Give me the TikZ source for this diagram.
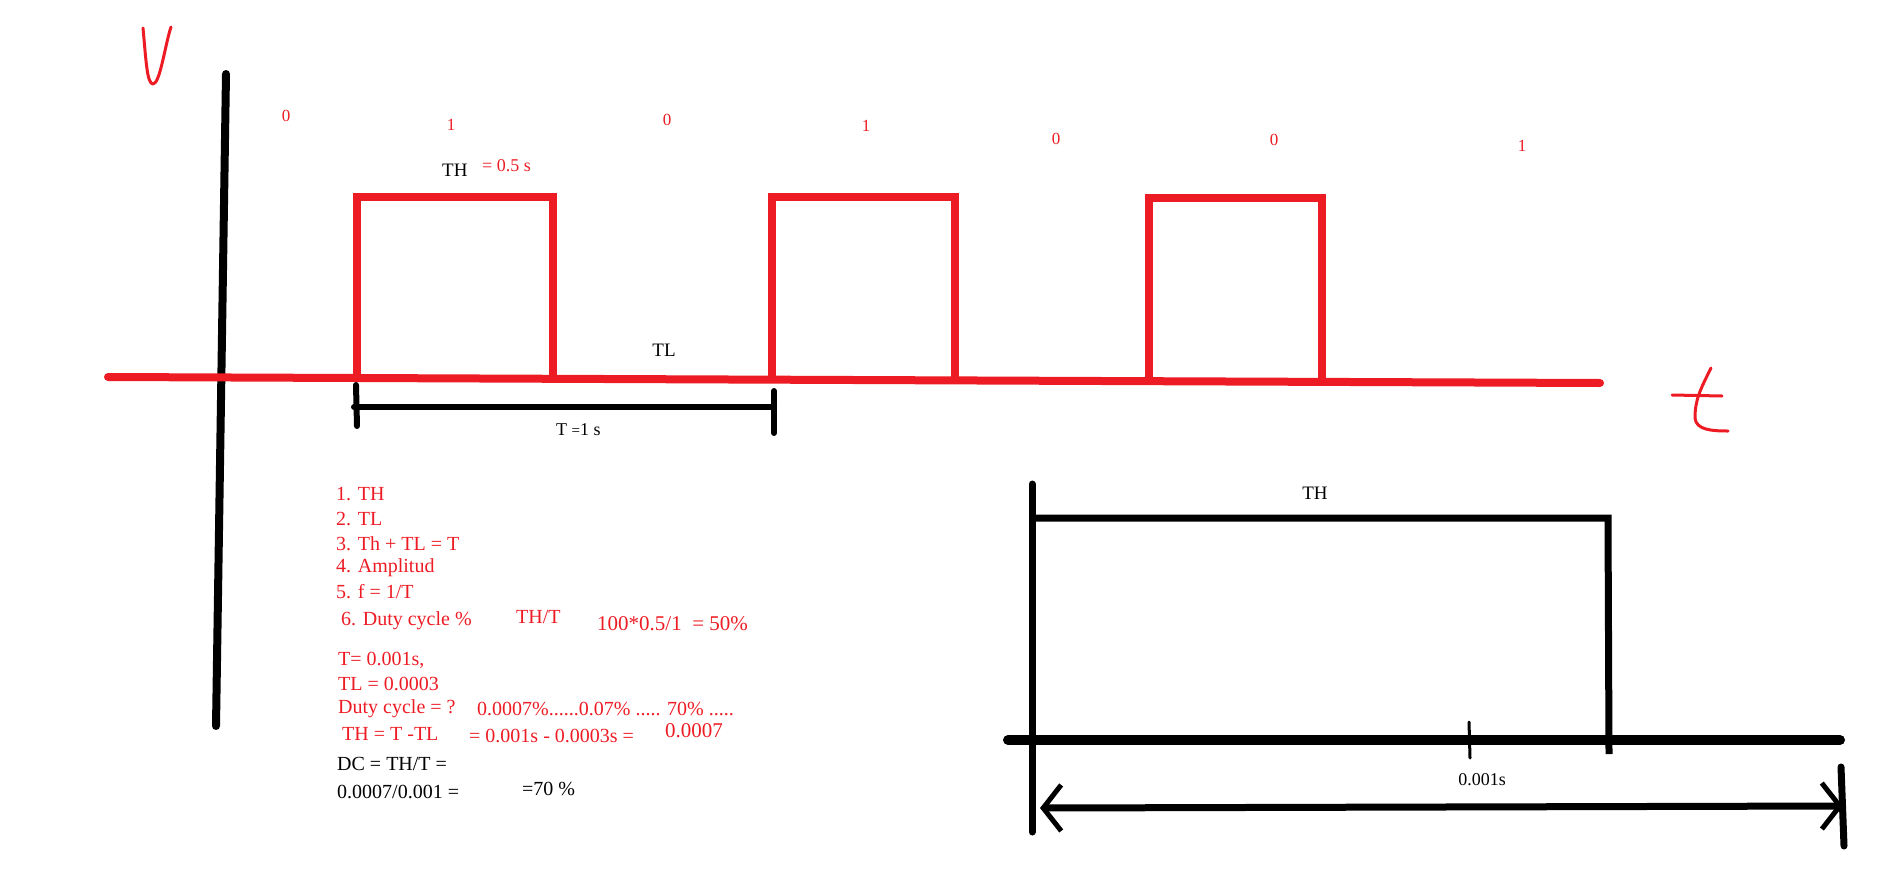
\documentclass[tikz,border=0pt]{standalone}
\usepackage{fontspec}
\setmainfont{Liberation Serif}
\usetikzlibrary{arrows.meta}
\definecolor{pred}{HTML}{ED1C24}
\begin{document}
\begin{tikzpicture}[x=1pt,y=-1pt,
  wave/.style={draw=pred,line width=8pt,line join=miter},
  ink/.style={draw=black,line width=7pt,line cap=round},
  hand/.style={draw=pred,line width=3pt,line cap=round,line join=round},
  bit/.style={text=pred,inner sep=0pt,font=\fontsize{17}{20}\selectfont},
  lab/.style={text=black,inner sep=0pt,font=\fontsize{19}{22}\selectfont},
  rtxt/.style={text=pred,inner sep=0pt,anchor=west,font=\fontsize{20}{24}\selectfont},
  btxt/.style={text=black,inner sep=0pt,anchor=west,font=\fontsize{20}{24}\selectfont},
  barb/.tip={Straight Barb[length=18pt,width=46pt,line width=5pt]}
]
\useasboundingbox (0,0) rectangle (1881,894);

% handwritten V and t
\draw[hand] (143,28) .. controls (146,60) and (147,84) .. (153,84)
  .. controls (160,84) and (165,45) .. (171,27);
\draw[hand] (1672,395) -- (1722,396);
\draw[hand] (1711,368) .. controls (1700,390) and (1695,400) .. (1695,418)
  .. controls (1696,430) and (1712,431) .. (1728,431);

% axes
\coordinate (vtop) at (226,74);
\coordinate (vbot) at (216,726);
\draw[ink,line width=8pt] (vtop) -- (vbot);

% waveform
\coordinate (b0) at (108,377);
\coordinate (b1) at (1600,383);
\draw[wave,line cap=round] (b0) -- (b1);
\draw[wave] (357,380) -- (357,197) -- (553,197) -- (553,380);
\draw[wave] (772,381) -- (772,197) -- (955,197) -- (955,381);
\draw[wave] (1149,382) -- (1149,198) -- (1322,198) -- (1322,382);

% bit labels
\node[bit] (n1) at (286,116) {0};
\node[bit] (n2) at (451,125) {1};
\node[bit] (n3) at (667,120) {0};
\node[bit] (n4) at (866,126) {1};
\node[bit] (n5) at (1056,139) {0};
\node[bit] (n6) at (1274,140) {0};
\node[bit] (n7) at (1522,146) {1};

\node[lab,anchor=west] (th) at (442,170) {TH};
\node[bit,anchor=west,font=\fontsize{18}{20}\selectfont] (thv) at (482,166) {= 0.5 s};
\node[lab] (tl) at (664,350) {TL};

% period bracket
\coordinate (pl) at (354,407);
\coordinate (pr) at (774,407);
\draw[ink,line width=6pt] (pl) -- (pr);
\draw[ink,line width=6pt] (356,385) -- (357,426);
\draw[ink,line width=6pt] (774,391) -- (774,433);
\node[lab,anchor=west,font=\fontsize{18}{20}\selectfont] (tp) at (556,430) {T {\fontsize{15}{18}\selectfont =}1 s};

% text block
\node[rtxt] (l1) at (336,494) {1. TH};
\node[rtxt] (l2) at (336,519) {2. TL};
\node[rtxt] (l3) at (336,544) {3. Th + TL = T};
\node[rtxt] (l4) at (336,568) {4. Amplitud};
\node[rtxt] (l5) at (336,592) {5. f = 1/T};
\node[rtxt] (l6) at (341,621) {6. Duty cycle \%};
\node[rtxt] (l6b) at (516,617) {TH/T};
\node[rtxt,font=\fontsize{21}{24}\selectfont] (l6c) at (597,624) {100*0.5/1 \ = 50\%};
\node[rtxt] (m1) at (338,660) {T= 0.001s,};
\node[rtxt] (m2) at (338,684) {TL = 0.0003};
\node[rtxt] (m3) at (338,709) {Duty cycle = ?};
\node[rtxt] (m3b) at (477,709) {0.0007\%......0.07\% ..... 70\% .....};
\node[rtxt] (m4) at (342,734) {TH = T -TL};
\node[rtxt] (m4b) at (469,736) {= 0.001s - 0.0003s =};
\node[rtxt,font=\fontsize{21}{24}\selectfont] (m4c) at (665,731) {0.0007};
\node[btxt] (d1) at (337,764) {DC = TH/T =};
\node[btxt] (d2) at (337,792) {0.0007/0.001 =};
\node[btxt] (d3) at (522,789) {=70 \%};

% right diagram
\coordinate (ra) at (1032,484);
\coordinate (rb) at (1032,832);
\draw[ink] (ra) -- (rb);
\coordinate (rtl) at (1032,518);
\coordinate (rtr) at (1608,518);
\coordinate (rbr) at (1609,754);
\draw[ink,line cap=butt] (rtl) -- (rtr) -- (rbr);
\coordinate (rl0) at (1008,740);
\coordinate (rl1) at (1840,740);
\draw[ink,line width=10pt] (rl0) -- (rl1);
\draw[ink,line width=3pt] (1469,722) -- (1470,758);
\coordinate (al) at (1040,808);
\coordinate (ar) at (1843,806);
\draw[ink,barb-barb] (al) -- (ar);
\draw[ink] (1841,767) -- (1844,846);
\node[lab] (rth) at (1315,493) {TH};
\node[lab,font=\fontsize{18}{21}\selectfont] (rt) at (1482,780) {0.001s};
\end{tikzpicture}
\end{document}
